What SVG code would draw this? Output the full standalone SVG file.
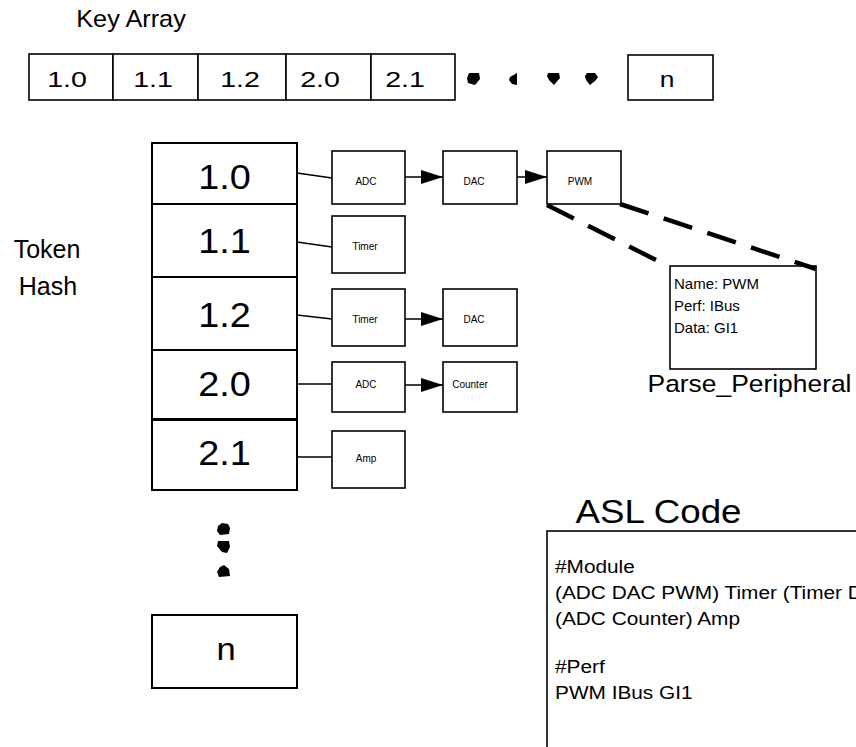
<svg xmlns="http://www.w3.org/2000/svg" width="856" height="747" viewBox="0 0 856 747">
  <style>
    text { font-family: "Liberation Sans", Arial, sans-serif; fill: #000; }
    .box { fill: #fff; stroke: #000; stroke-width: 1.6; }
    .tok { fill: #fff; stroke: #000; stroke-width: 2; }
    .link { fill: none; stroke: #000; stroke-width: 1.5; }
    .arrow { fill: none; stroke: #000; stroke-width: 1.5; marker-end: url(#head); }
    .dash { fill: none; stroke: #000; stroke-width: 4.5; stroke-dasharray: 30 16; }
    .dot { fill: #000; }
    .key { font-size: 22px; text-anchor: middle; }
    .big { font-size: 35px; text-anchor: middle; }
    .small { font-size: 10px; text-anchor: middle; }
    .info { font-size: 15px; }
    .code { font-size: 17.5px; }
  </style>
  <defs>
    <marker id="head" markerUnits="userSpaceOnUse" markerWidth="22" markerHeight="14" refX="22" refY="7" orient="auto">
      <path d="M0,0 L22,7 L0,14 z" fill="#000"/>
    </marker>
  </defs>

  <!-- Key array header -->
  <g id="key-array-title">
    <text transform="translate(131,27) scale(1.1,1)" style="font-size:23px" text-anchor="middle">Key Array</text>
  </g>

  <g id="key-array">
    <rect class="box" x="29" y="54" width="84" height="46"/>
    <rect class="box" x="113" y="54" width="85" height="46"/>
    <rect class="box" x="198" y="54" width="88" height="46"/>
    <rect class="box" x="286" y="54" width="85" height="46"/>
    <rect class="box" x="371" y="54" width="84" height="46"/>
    <text class="key" transform="translate(67,87) scale(1.3,1)">1.0</text>
    <text class="key" transform="translate(153,87) scale(1.3,1)">1.1</text>
    <text class="key" transform="translate(240,87) scale(1.3,1)">1.2</text>
    <text class="key" transform="translate(320,87) scale(1.3,1)">2.0</text>
    <text class="key" transform="translate(405,87) scale(1.3,1)">2.1</text>
  </g>

  <g id="key-array-ellipsis">
    <path class="dot" d="M469,73 L479,73 L480,79 L475,85 L468,83 L467,78 z"/>
    <path class="dot" d="M517,73 L517,85 L512,84 L509,80 L510,77 z"/>
    <path class="dot" d="M548,73 L559,73 L560,78 L554,85 L549,80 L547,76 z"/>
    <path class="dot" d="M587,73 L595,73 L598,77 L596,80 L590,85 L586,80 L585,76 z"/>
  </g>

  <g id="key-array-n">
    <rect class="box" x="628" y="55" width="85" height="45"/>
    <text class="key" transform="translate(667,87) scale(1.2,1)">n</text>
  </g>

  <!-- Token hash column -->
  <g id="token-hash-label">
    <text x="47" y="258" style="font-size:25px" text-anchor="middle">Token</text>
    <text x="48" y="295" style="font-size:25px" text-anchor="middle">Hash</text>
  </g>

  <g id="tok-1-0">
    <rect class="tok" x="152" y="143" width="145" height="61"/>
    <text class="big" transform="translate(224.5,189) scale(1.08,1)">1.0</text>
  </g>
  <g id="tok-1-1">
    <rect class="tok" x="152" y="204" width="145" height="73"/>
    <text class="big" transform="translate(224.5,253) scale(1.08,1)">1.1</text>
  </g>
  <g id="tok-1-2">
    <rect class="tok" x="152" y="277" width="145" height="73"/>
    <text class="big" transform="translate(224.5,327) scale(1.08,1)">1.2</text>
  </g>
  <g id="tok-2-0">
    <rect class="tok" x="152" y="350" width="145" height="69"/>
    <text class="big" transform="translate(224.5,396) scale(1.08,1)">2.0</text>
  </g>
  <g id="tok-2-1">
    <rect class="tok" x="152" y="420" width="145" height="70"/>
    <text class="big" transform="translate(224.5,465) scale(1.08,1)">2.1</text>
  </g>

  <g id="tok-ellipsis">
    <path class="dot" d="M222,523 L228,524 L230,528 L229,534 L220,535 L217,531 L218,526 z"/>
    <path class="dot" d="M218,541 L229,541 L230,547 L227,553 L222,552 L217,546 z"/>
    <path class="dot" d="M224,565 L229,569 L230,576 L219,577 L217,572 L220,567 z"/>
  </g>

  <g id="tok-n">
    <rect class="tok" x="152" y="615" width="145" height="73"/>
    <text class="big" transform="translate(226,660) scale(1.08,1)" style="font-size:32px">n</text>
  </g>

  <!-- Module chains -->
  <g id="adc-1">
    <rect class="box" x="332" y="151" width="73" height="53"/>
    <text class="small" x="366" y="185">ADC</text>
  </g>
  <g id="dac-1">
    <rect class="box" x="443" y="151" width="74" height="53"/>
    <text class="small" x="474" y="185">DAC</text>
  </g>
  <g id="pwm-1">
    <rect class="box" x="547" y="151" width="74" height="53"/>
    <text class="small" x="580" y="185">PWM</text>
  </g>
  <g id="timer-1">
    <rect class="box" x="332" y="216" width="73" height="57"/>
    <text class="small" x="365" y="250">Timer</text>
  </g>
  <g id="timer-2">
    <rect class="box" x="332" y="289" width="73" height="57"/>
    <text class="small" x="365" y="323">Timer</text>
  </g>
  <g id="dac-2">
    <rect class="box" x="443" y="289" width="74" height="57"/>
    <text class="small" x="474" y="323">DAC</text>
  </g>
  <g id="adc-2">
    <rect class="box" x="332" y="362" width="73" height="50"/>
    <text class="small" x="366" y="388">ADC</text>
  </g>
  <g id="counter">
    <rect class="box" x="443" y="362" width="74" height="50"/>
    <text class="small" x="470" y="388">Counter</text>
  </g>
  <g id="amp">
    <rect class="box" x="332" y="431" width="73" height="57"/>
    <text class="small" x="366" y="462">Amp</text>
  </g>

  <!-- Peripheral detail -->
  <g id="parse-peripheral">
    <rect class="box" x="670" y="266" width="146" height="103"/>
    <text class="info" x="674" y="289">Name: PWM</text>
    <text class="info" x="674" y="311">Perf: IBus</text>
    <text class="info" x="674" y="333">Data: GI1</text>
    <text transform="translate(749.5,392) scale(1.1,1)" style="font-size:24px" text-anchor="middle">Parse_Peripheral</text>
  </g>

  <!-- ASL source listing -->
  <g id="asl-code">
    <text transform="translate(658.5,523) scale(1.08,1)" style="font-size:34px" text-anchor="middle">ASL Code</text>
    <rect class="box" x="547" y="531" width="340" height="240"/>
    <text class="code" transform="translate(555,573) scale(1.19,1)">#Module</text>
    <text class="code" transform="translate(555,599) scale(1.19,1)">(ADC DAC PWM) Timer (Timer DAC)</text>
    <text class="code" transform="translate(555,625) scale(1.19,1)">(ADC Counter) Amp</text>
    <text class="code" transform="translate(555,673) scale(1.19,1)">#Perf</text>
    <text class="code" transform="translate(555,699) scale(1.19,1)">PWM IBus GI1</text>
  </g>

  <!-- Connectors -->
  <g id="connectors">
    <line class="link" x1="297" y1="173" x2="332" y2="178"/>
    <line class="link" x1="297" y1="242" x2="332" y2="247"/>
    <line class="link" x1="297" y1="315" x2="332" y2="319"/>
    <line class="link" x1="297" y1="384" x2="332" y2="384"/>
    <line class="link" x1="297" y1="457" x2="332" y2="457"/>
    <line class="arrow" x1="405" y1="177" x2="443" y2="177"/>
    <line class="arrow" x1="517" y1="177" x2="547" y2="177"/>
    <line class="arrow" x1="405" y1="319" x2="443" y2="319"/>
    <line class="arrow" x1="405" y1="385" x2="443" y2="385"/>
    <line class="dash" x1="547" y1="205" x2="658" y2="261"/>
    <line class="dash" x1="620" y1="204" x2="816" y2="269"/>
  </g>
</svg>
